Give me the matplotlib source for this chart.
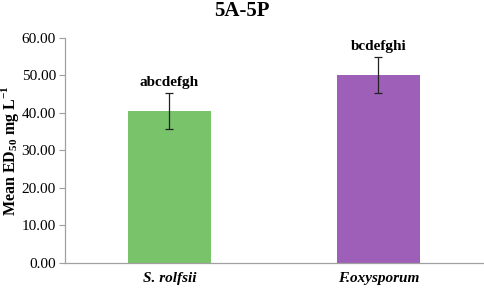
import matplotlib
matplotlib.use("Agg")
import matplotlib.pyplot as plt
from matplotlib.ticker import FormatStrFormatter

# data
pathogens = ["S. rolfsii", "F.oxysporum"]
mean_ed50 = [40.4, 50.1]
errors = [4.8, 4.8]
groups = ["abcdefgh", "bcdefghi"]
colors = ["#79C36A", "#9E5FB8"]

plt.rcParams["font.family"] = "Liberation Serif"
plt.rcParams["mathtext.fontset"] = "custom"
plt.rcParams["mathtext.rm"] = "Liberation Serif"
plt.rcParams["mathtext.bf"] = "Liberation Serif:bold"

fig = plt.figure(figsize=(4.84, 2.88), dpi=100)
ax = fig.add_axes([0.134, 0.088, 0.864, 0.781])

x = range(len(pathogens))
ax.bar(x, mean_ed50, width=0.4, color=colors, zorder=2)
ax.errorbar(x, mean_ed50, yerr=errors, fmt="none", ecolor="#222222",
            elinewidth=0.9, capsize=3, capthick=0.9, zorder=3)

# significance letters above the error bars
for xi, m, e, g in zip(x, mean_ed50, errors, groups):
    ax.text(xi, m + e + 1.0, g, ha="center", va="bottom",
            fontsize=11, fontweight="bold")

ax.set_xlim(-0.5, 1.5)
ax.set_ylim(0, 60)
ax.set_yticks(range(0, 61, 10))
ax.yaxis.set_major_formatter(FormatStrFormatter("%.2f"))
ax.set_xticks(list(x))
ax.set_xticklabels(pathogens, fontsize=11, fontweight="bold", style="italic")
ax.tick_params(axis="x", length=0, pad=7)
ax.tick_params(axis="y", labelsize=11, length=4, pad=2.5,
               color="#A0A0A0", width=0.8)

for side in ["top", "right"]:
    ax.spines[side].set_visible(False)
for side in ["left", "bottom"]:
    ax.spines[side].set_color("#A0A0A0")
    ax.spines[side].set_linewidth(0.9)

ax.set_ylabel(r"Mean ED$_{\mathbf{50}}$ mg L$^{\mathbf{-1}}$",
              fontsize=11.5, fontweight="bold")
ax.yaxis.set_label_coords(-0.104, 0.5)
fig.text(0.5, 0.962, "5A-5P", ha="center", va="center",
         fontsize=15, fontweight="bold")

fig.savefig("out.png", dpi=100)
